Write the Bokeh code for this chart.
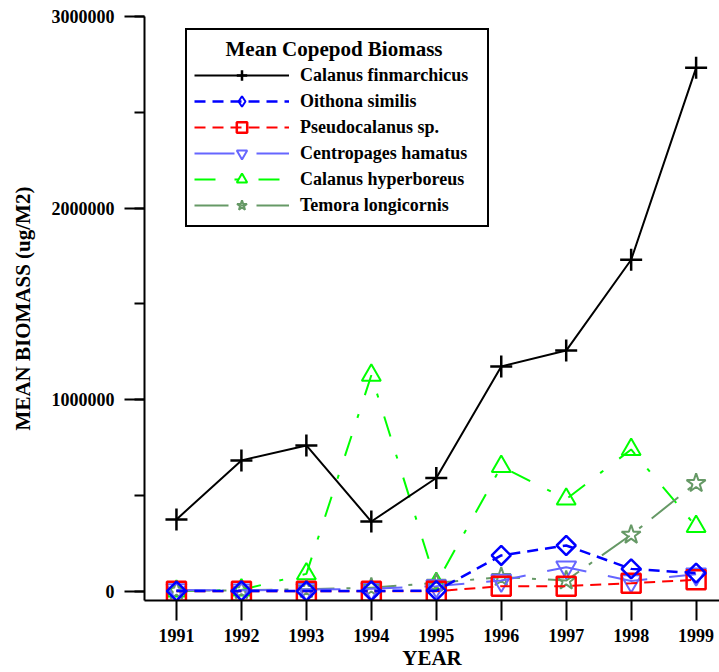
import math

from bokeh.plotting import figure
from bokeh.models import (Range1d, FixedTicker, SingleIntervalTicker,
                          NumeralTickFormatter, Legend, LegendItem)
from bokeh.embed import file_html
from bokeh.resources import INLINE

# Mean copepod biomass (ug/M2) by year
years = [1991, 1992, 1993, 1994, 1995, 1996, 1997, 1998, 1999]
calanus_finmarchicus = [376000, 684000, 762000, 365000, 592000, 1174000, 1257000, 1731000, 2732000]
oithona_similis = [2000, 3000, 2000, 3000, 4000, 188000, 240000, 118000, 96000]
pseudocalanus_sp = [1000, 1000, 1000, 1000, 1000, 28000, 28000, 43000, 61000]
centropages_hamatus = [8000, 6000, 10000, 14000, 28000, 57000, 127000, 55000, 90000]
calanus_hyperboreus = [2000, 8000, 92000, 1128000, 42000, 652000, 482000, 741000, 339000]
temora_longicornis = [4000, 6000, 12000, 20000, 45000, 75000, 57000, 296000, 565000]

FONT = "Liberation Serif"
NBSP = "\u00a0"

p = figure(width=719, height=672, output_backend="svg", toolbar_location=None,
           x_range=Range1d(1990.508, 1999.36), y_range=Range1d(-47000, 3000000),
           min_border_left=144, min_border_right=0, min_border_top=16,
           min_border_bottom=72)
p.outline_line_color = None
p.grid.visible = False
p.background_fill_color = "white"
p.border_fill_color = "white"

xa = p.xaxis[0]
ya = p.yaxis[0]
for ax in (xa, ya):
    ax.axis_line_width = 2
    ax.axis_line_color = "black"
    ax.major_tick_line_width = 2
    ax.minor_tick_line_width = 2
    ax.major_tick_line_color = "black"
    ax.minor_tick_line_color = "black"
    ax.major_tick_in = 0
    ax.major_tick_out = 20
    ax.minor_tick_in = 0
    ax.major_label_text_font = FONT
    ax.major_label_text_font_style = "bold"
    ax.major_label_text_font_size = "18px"
    ax.major_label_text_color = "black"
    ax.axis_label_text_font = FONT
    ax.axis_label_text_font_style = "bold"
    ax.axis_label_text_font_size = "21px"
    ax.axis_label_text_color = "black"

xa.ticker = FixedTicker(ticks=years, minor_ticks=[])
xa.minor_tick_out = 0
xa.major_label_standoff = 8
xa.axis_label = "YEAR"
xa.axis_label_standoff = 1

ya.ticker = SingleIntervalTicker(interval=1000000, num_minor_ticks=2)
ya.formatter = NumeralTickFormatter(format="0")
ya.minor_tick_out = 10
ya.major_label_standoff = 10
ya.axis_label = "MEAN BIOMASS (ug/M2)"
ya.axis_label_standoff = 14


def series(values, color, width, dash, marker, size, mwidth, angle=0.0):
    ln = p.line(years, values, line_color=color, line_width=width, line_dash=dash)
    sc = p.scatter(years, values, marker=marker, size=size, angle=angle,
                   line_color=color, line_width=mwidth, fill_color=None)
    return [ln, sc]


# drawn bottom-up so the main species sit on top
r_hyp = series(calanus_hyperboreus, "#00ff00", 2, "21 19 4 20", "triangle", 19, 2)
r_tem = series(temora_longicornis, "#669966", 2, "34 12 4 12", "star", 20, 2)
r_cen = series(centropages_hamatus, "#6666ff", 2, "40 22", "inverted_triangle", 20, 2)
r_pse = series(pseudocalanus_sp, "#ff0000", 2, "11 7", "square", 19, 2.5)
r_oit = series(oithona_similis, "#0000ff", 2.5, "11 7", "square", 13.5, 2.5, math.pi / 4)
r_fin = series(calanus_finmarchicus, "black", 2, "solid", "cross", 22, 2.5)

# legend swatch for Oithona: the key ignores marker rotation, so use a diamond
# (a single NaN point keeps it out of the plot area)
oit_key = p.scatter(x=[float("nan")], y=[float("nan")], marker="diamond", size=14,
                    line_color="#0000ff", line_width=2, fill_color=None)

legend = Legend(
    items=[
        LegendItem(label="Calanus finmarchicus", renderers=r_fin),
        LegendItem(label="Oithona similis", renderers=[r_oit[0], oit_key]),
        LegendItem(label="Pseudocalanus sp.", renderers=r_pse),
        LegendItem(label="Centropages hamatus", renderers=r_cen),
        LegendItem(label="Calanus hyperboreus", renderers=r_hyp),
        LegendItem(label="Temora longicornis", renderers=r_tem),
    ],
    location=(41, 373),
    title=NBSP * 6 + "Mean Copepod Biomass",
    title_text_font=FONT, title_text_font_style="bold", title_text_font_size="21px",
    title_text_color="black", title_standoff=0,
    label_text_font=FONT, label_text_font_style="bold", label_text_font_size="18px",
    label_text_color="black",
    border_line_color="black", border_line_width=2, border_line_alpha=1.0,
    background_fill_color="white", background_fill_alpha=1.0,
    padding=7, spacing=0, margin=0,
    glyph_height=26, glyph_width=95, label_height=20, label_standoff=11,
    label_width=180,
)
p.add_layout(legend)

open("out.html", "w").write(file_html(p, INLINE))
